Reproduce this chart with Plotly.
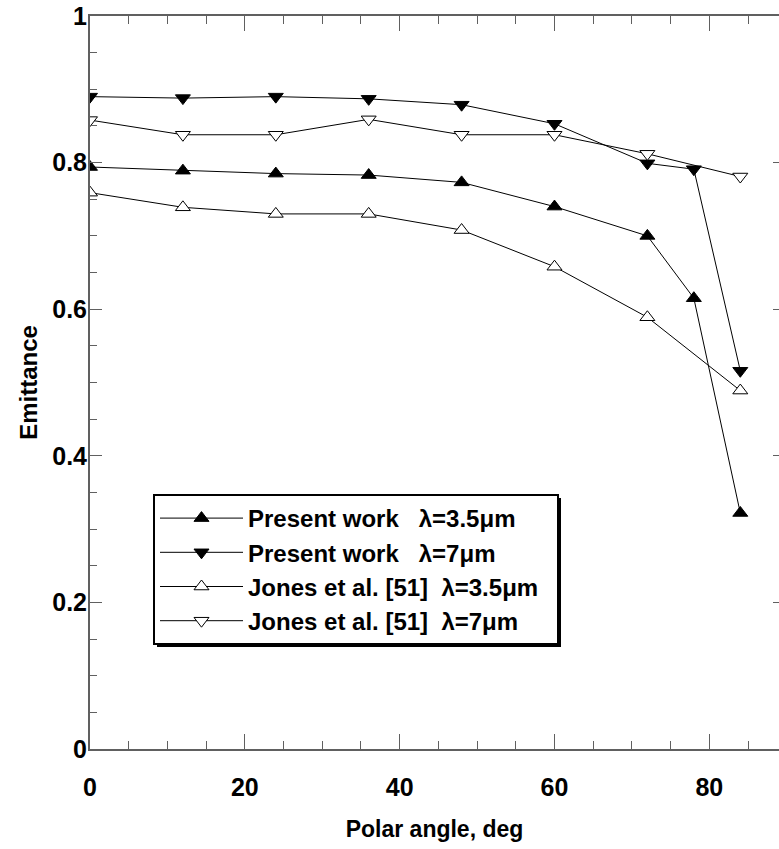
import plotly.graph_objects as go

# Data
angle_present = [0, 12, 24, 36, 48, 60, 72, 78, 84]
present_35 = [0.794, 0.789, 0.785, 0.783, 0.773, 0.740, 0.700, 0.615, 0.322]
present_7 = [0.890, 0.888, 0.890, 0.887, 0.879, 0.853, 0.799, 0.791, 0.516]

angle_jones = [0, 12, 24, 36, 48, 60, 72, 84]
jones_35 = [0.759, 0.739, 0.730, 0.730, 0.708, 0.658, 0.589, 0.489]
jones_7 = [0.858, 0.838, 0.838, 0.859, 0.838, 0.838, 0.812, 0.781]

NB = "\u00a0"
names = [
    "Present work" + NB * 2 + " λ=3.5μm",
    "Present work" + NB * 2 + " λ=7μm",
    "Jones et al. [51]" + NB + " λ=3.5μm" + NB * 2,
    "Jones et al. [51]" + NB + " λ=7μm",
]

FONT = "Liberation Sans, Arial, sans-serif"
GRAY = "#606060"

fig = go.Figure()

def add(x, y, name, symbol, fill):
    fig.add_trace(go.Scatter(
        x=x, y=y, name=name, mode="lines+markers",
        line=dict(color="black", width=1),
        marker=dict(symbol=symbol, size=13, color=fill,
                    line=dict(color="black", width=1)),
    ))

add(angle_present, present_35, names[0], "triangle-up", "black")
add(angle_present, present_7, names[1], "triangle-down", "black")
add(angle_jones, jones_35, names[2], "triangle-up", "white")
add(angle_jones, jones_7, names[3], "triangle-down", "white")

# invisible trace for the right-side y axis ticks
fig.add_trace(go.Scatter(x=[None], y=[None], yaxis="y2", showlegend=False))

W, H = 779, 849
ML, MT, MB, MR = 90, 16, 100, 0
PW, PH = W - ML - MR, H - MT - MB

fig.update_layout(
    width=W, height=H,
    margin=dict(l=ML, r=MR, t=MT, b=MB),
    paper_bgcolor="white", plot_bgcolor="white",
    font=dict(family=FONT, color="black"),
    showlegend=True,
    legend=dict(
        x=(153 - ML) / PW, y=(749 - 494) / PH, xanchor="left", yanchor="top",
        bgcolor="white", bordercolor="black", borderwidth=2,
        font=dict(family=FONT, size=24, weight="bold", color="black"),
        itemwidth=83,
        tracegroupgap=0,
    ),
    xaxis=dict(
        range=[0, 89.0], showgrid=False, zeroline=False,
        showline=True, linecolor=GRAY, linewidth=2, mirror="ticks",
        ticks="inside", ticklen=15, tickwidth=1, tickcolor=GRAY,
        tick0=0, dtick=20,
        minor=dict(ticks="inside", ticklen=8, tickwidth=1, tickcolor=GRAY, dtick=5, showgrid=False),
        tickfont=dict(family=FONT, size=25, weight="bold", color="black"),
        ticklabelstandoff=15,
        title=dict(text="Polar angle, deg", font=dict(family=FONT, size=23, weight="bold"), standoff=21),
    ),
    yaxis=dict(
        range=[0, 1], showgrid=False, zeroline=False,
        showline=True, linecolor=GRAY, linewidth=2,
        ticks="inside", ticklen=12, tickwidth=1, tickcolor=GRAY,
        tick0=0, dtick=0.2, tickformat="~g",
        minor=dict(ticks="inside", ticklen=7, tickwidth=1, tickcolor=GRAY, dtick=0.05, showgrid=False),
        tickfont=dict(family=FONT, size=25, weight="bold", color="black"),
        ticklabelstandoff=-4,
        title=dict(text="Emittance", font=dict(family=FONT, size=24, weight="bold"), standoff=8),
    ),
    yaxis2=dict(
        range=[0, 1], overlaying="y", side="right", showgrid=False, zeroline=False,
        showline=False, ticks="inside", ticklen=6, tickwidth=1, tickcolor=GRAY,
        tick0=0, dtick=0.2, showticklabels=False,
    ),
)

# legend drop shadow
fig.add_shape(type="rect", xref="paper", yref="paper",
              x0=(157 - ML) / PW, x1=(561 - ML) / PW,
              y0=(749 - 647) / PH, y1=(749 - 498) / PH,
              fillcolor="black", line=dict(width=0), layer="below")

fig.write_html("out.html")
